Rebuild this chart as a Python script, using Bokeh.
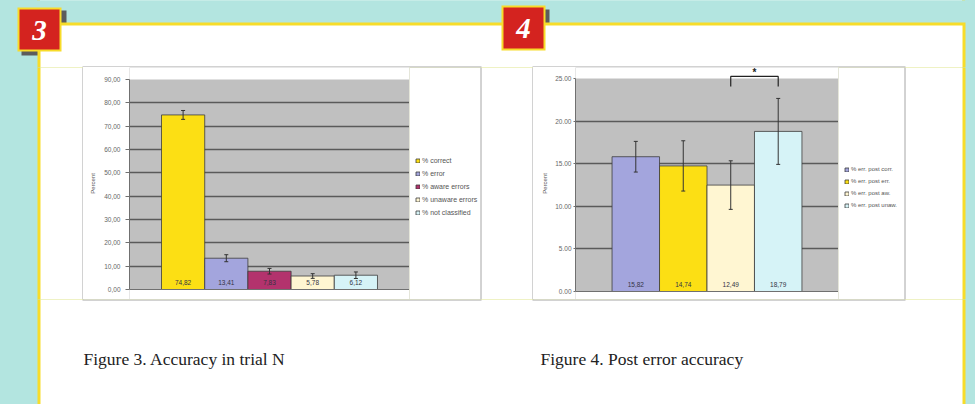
from bokeh.plotting import figure
from bokeh.models import (Range1d, FixedTicker, Legend, LegendItem, BoxAnnotation,
                          ColumnDataSource, Span, GlobalInlineStyleSheet)
from bokeh.layouts import column, row
from bokeh.core.properties import value
from bokeh.embed import file_html
from bokeh.resources import INLINE

# ---------------- data ----------------
c1_labels = ["% correct", "% error", "% aware errors", "% unaware errors", "% not classified"]
c1_values = [74.82, 13.41, 7.83, 5.78, 6.12]
c1_errors = [1.9, 1.5, 1.2, 1.0, 1.4]
c1_value_text = ["74,82", "13,41", "7,83", "5,78", "6,12"]
c1_ticks = [0, 10, 20, 30, 40, 50, 60, 70, 80, 90]
c1_tick_labels = ["0,00", "10,00", "20,00", "30,00", "40,00", "50,00", "60,00", "70,00", "80,00", "90,00"]

c2_labels = ["% err. post corr.", "% err. post err.", "% err. post aw.", "% err. post unaw."]
c2_values = [15.82, 14.74, 12.49, 18.79]
c2_errors = [1.8, 2.95, 2.85, 3.87]
c2_value_text = ["15,82", "14,74", "12,49", "18,79"]
c2_ticks = [0, 5, 10, 15, 20, 25]
c2_tick_labels = ["0.00", "5.00", "10.00", "15.00", "20.00", "25.00"]
sig_pair = [2, 3]
sig_mark = "*"

axis_title = "Percent"
captions = ["Figure 3. Accuracy in trial N", "Figure 4. Post error accuracy"]
badges = ["3", "4"]

# ---------------- styles ----------------
TEAL = "#b3e5e0"
YEL = "#f7dc2a"
RED = "#d4231f"
SHADOW = "#5c5c5c"
FRAME = "#a6a6a6"
PLOTBG = "#c0c0c0"
GRID = "#5a5a5a"
AXIS = "#707070"
FONT_NAME = "Liberation Sans"
FONT = value(FONT_NAME)
SERIF = value("Liberation Serif")

c1_colors = ["#fcdf14", "#a3a5dd", "#b3336d", "#fff6d2", "#d6f3f7"]
c2_colors = ["#a3a5dd", "#fcdf14", "#fff6d2", "#d6f3f7"]

# page-coordinate decoration (page pixels)
rects = [
    (-20, 995, -20, 424, TEAL),
    (21, 66, 10, 55, SHADOW),
    (505, 549, 9, 54, SHADOW),
    (37, 965, 22, 424, YEL),
    (40, 962, 25, 424, "white"),
    (82, 481, 66, 300, FRAME),
    (83, 480, 67, 299, "white"),
    (532, 905, 66, 300, FRAME),
    (533, 904, 67, 299, "white"),
    (17, 61, 7, 51, YEL),
    (19, 59, 9, 49, RED),
    (501, 545, 5, 50, YEL),
    (503, 543, 7, 48, RED),
]


def deco(x0, y0, w, h):
    f = figure(width=w, height=h, x_range=Range1d(x0, x0 + w), y_range=Range1d(y0 + h, y0),
               toolbar_location=None, output_backend="svg", min_border=0,
               x_axis_location=None, y_axis_location=None)
    f.grid.visible = False
    f.outline_line_color = None
    f.background_fill_color = TEAL
    f.border_fill_color = TEAL
    f.quad(left=[r[0] for r in rects], right=[r[1] for r in rects],
           top=[r[2] for r in rects], bottom=[r[3] for r in rects],
           fill_color=[r[4] for r in rects], line_color=None)
    return f


def make_source(values, errors, texts, colors):
    return ColumnDataSource(dict(
        x=list(range(len(values))), top=values,
        lo=[v - e for v, e in zip(values, errors)],
        hi=[v + e for v, e in zip(values, errors)], color=colors, txt=texts))


src1 = make_source(c1_values, c1_errors, c1_value_text, c1_colors)
src2 = make_source(c2_values, c2_errors, c2_value_text, c2_colors)


def add_legend(f, src, labels, loc, font_size, spacing):
    r = f.vbar(x="x", top="top", bottom=0, width=1, fill_color="color",
               line_color="#3c3c3c", line_width=0.8, source=src, visible=False)
    legend = Legend(items=[LegendItem(label=lab, renderers=[r], index=i) for i, lab in enumerate(labels)],
                    location=loc, orientation="vertical")
    legend.label_text_font = FONT_NAME
    legend.label_text_font_size = font_size
    legend.label_text_color = "#555555"
    legend.glyph_width = 5
    legend.glyph_height = 5
    legend.label_height = 8
    legend.label_standoff = 2
    legend.spacing = spacing
    legend.padding = 1
    legend.margin = 0
    legend.border_line_color = None
    legend.background_fill_alpha = 0
    legend.inactive_fill_alpha = 0
    legend.click_policy = "none"
    f.add_layout(legend, "center")


top = deco(0, 0, 975, 67)
top.text(x=[39, 523], y=[30, 28], text=badges, text_font=SERIF, text_font_size="29px",
         text_font_style="bold italic", text_color="white", text_align="center",
         text_baseline="middle")
left = deco(0, 67, 83, 232)
mid = deco(409, 67, 124, 232)
add_legend(mid, src1, c1_labels, (6, 83), "7px", 5)
right = deco(838, 67, 137, 232)
add_legend(right, src2, c2_labels, (6, 90), "6px", 4)
bottom = deco(0, 299, 975, 105)
bottom.text(x=[83, 540], y=[358, 358], text=captions, text_font=SERIF, text_font_size="17.5px",
            text_color="#222222", text_align="left", text_baseline="alphabetic")


def make_chart(width, n, gap, ticks, tick_labels, px_per_unit, pad_top, pad_bottom,
               mb_left, tick_out, standoff, label_standoff):
    y_lo = ticks[0] - pad_bottom / px_per_unit
    y_hi = ticks[-1] + pad_top / px_per_unit
    p = figure(width=width, height=232, x_range=Range1d(-0.5 - gap, n - 0.5 + gap),
               y_range=Range1d(y_lo, y_hi), toolbar_location=None, output_backend="svg",
               x_axis_location=None, min_border_left=mb_left, min_border_right=0,
               min_border_top=0, min_border_bottom=0)
    p.background_fill_color = PLOTBG
    p.border_fill_color = "white"
    p.outline_line_color = None
    ax = p.yaxis[0]
    ax.ticker = FixedTicker(ticks=ticks)
    ax.bounds = (ticks[0], ticks[-1])
    ax.major_label_overrides = {t: lab for t, lab in zip(ticks, tick_labels)}
    ax.major_label_text_font = FONT_NAME
    ax.major_label_text_font_size = "6.5px"
    ax.major_label_text_color = "#666666"
    ax.major_tick_out = tick_out
    ax.major_tick_in = 0
    ax.minor_tick_out = 0
    ax.minor_tick_in = 0
    ax.major_label_standoff = standoff
    ax.axis_line_color = AXIS
    ax.major_tick_line_color = AXIS
    ax.axis_label = axis_title
    ax.axis_label_text_font = FONT_NAME
    ax.axis_label_text_font_size = "6px"
    ax.axis_label_text_font_style = "normal"
    ax.axis_label_text_color = "#555555"
    ax.axis_label_standoff = label_standoff
    p.xgrid.visible = False
    p.ygrid.ticker = FixedTicker(ticks=ticks[1:-1])
    p.ygrid.grid_line_color = GRID
    p.ygrid.grid_line_width = 1.4
    p.add_layout(BoxAnnotation(bottom=ticks[-1], fill_color="white", fill_alpha=1,
                               line_alpha=0, level="underlay"))
    p.add_layout(BoxAnnotation(top=ticks[0], fill_color="white", fill_alpha=1,
                               line_alpha=0, level="underlay"))
    p.add_layout(Span(location=ticks[0], dimension="width", line_color=AXIS, line_width=1))
    return p


def add_bars(p, src):
    p.vbar(x="x", top="top", bottom=0, width=1, fill_color="color",
           line_color="#3c3c3c", line_width=0.8, source=src)
    p.segment(x0="x", y0="lo", x1="x", y1="hi", line_color="#333333", line_width=1, source=src)
    p.scatter(x="x", y="lo", marker="dash", size=4, line_color="#333333", line_width=1, source=src)
    p.scatter(x="x", y="hi", marker="dash", size=4, line_color="#333333", line_width=1, source=src)
    p.text(x="x", y=0, text="txt", y_offset=-7, text_align="center", text_baseline="middle",
           text_font=FONT, text_font_size="6.5px", text_color="#333344", source=src)


# ---------------- chart 3 ----------------
p1 = make_chart(326, len(c1_values), 0.741, c1_ticks, c1_tick_labels, 210 / 90, 12, 10,
                46, 4, 5, 5)
add_bars(p1, src1)

# ---------------- chart 4 ----------------
p2 = make_chart(305, len(c2_values), 0.77, c2_ticks, c2_tick_labels, 213 / 25, 11, 8,
                42, 2, 2, 4)
add_bars(p2, src2)
br_top = c2_ticks[-1] + 0.24
br_leg = c2_ticks[-1] - 0.94
a, b = sig_pair
p2.line(x=[a, a, b, b], y=[br_leg, br_top, br_top, br_leg], line_color="#222222", line_width=1.2)
p2.text(x=[(a + b) / 2], y=[br_top], text=[sig_mark], text_align="center", text_baseline="bottom",
        y_offset=2, text_font=FONT, text_font_size="10px", text_font_style="bold", text_color="#222222")

layout = column(top, row(left, p1, mid, p2, right, spacing=0), bottom, spacing=0)
page_css = ("body { background: linear-gradient(to right, %s 0px, %s 37px, %s 37px, %s 40px, "
            "white 40px, white 962px, %s 962px, %s 965px, %s 965px, %s 100%%); }"
            % (TEAL, TEAL, YEL, YEL, YEL, YEL, TEAL, TEAL))
layout.stylesheets = [GlobalInlineStyleSheet(css=page_css)]

open("out.html", "w").write(file_html(layout, INLINE))
